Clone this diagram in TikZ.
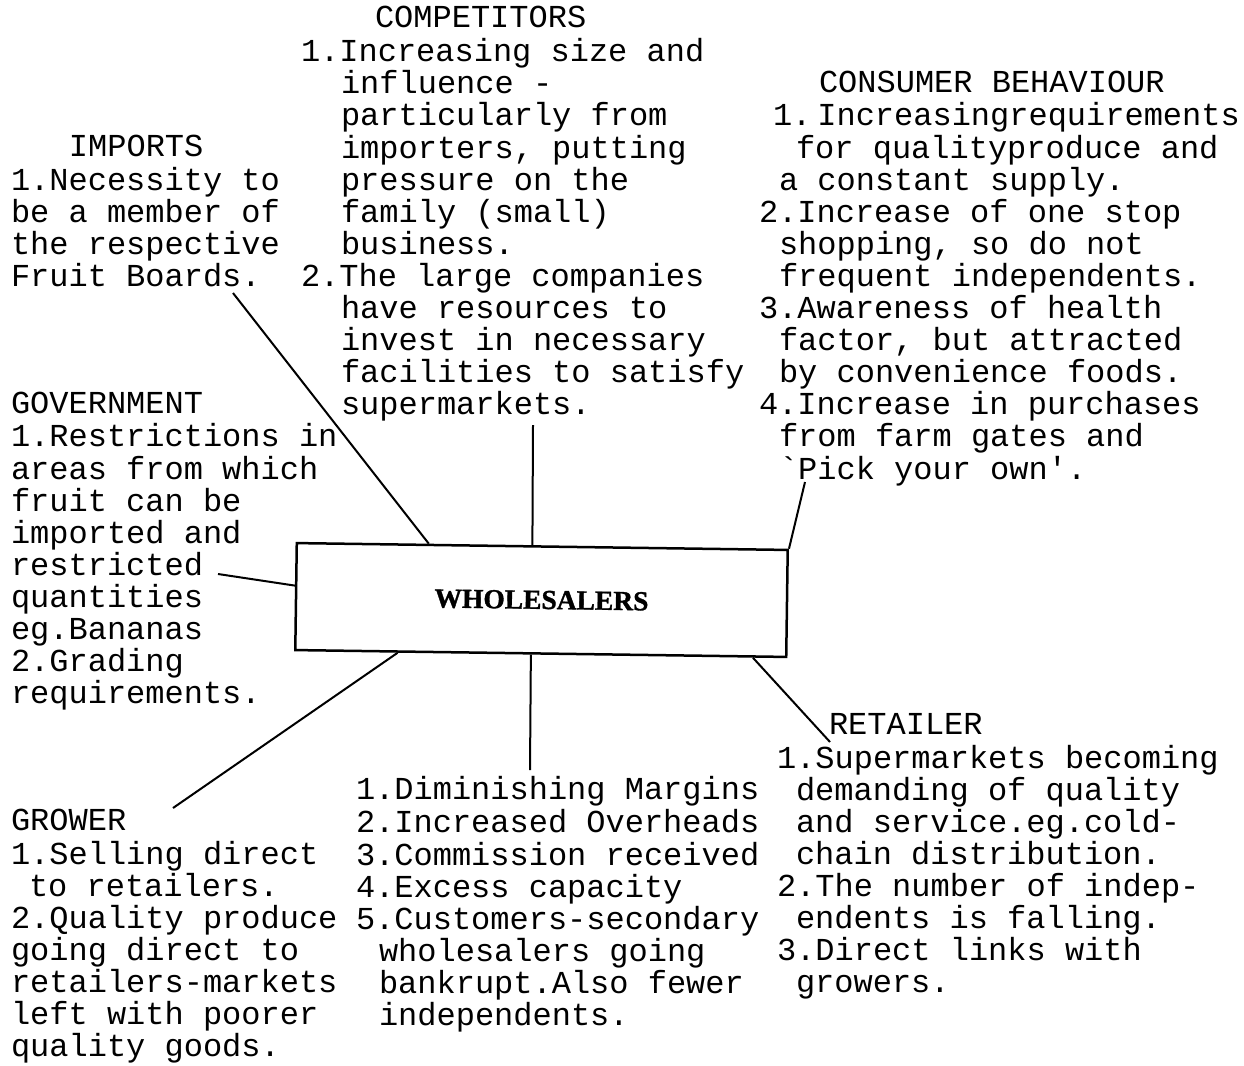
\documentclass[tikz,border=0pt]{standalone}
\usepackage{fontspec}
\setmonofont{Liberation Mono}
\newfontfamily\boxfont[BoldFeatures={FakeBold=1.2}]{Liberation Serif}
\usetikzlibrary{calc}
\newcommand{\indt}[1]{\hspace*{#1pt}}

\begin{document}
\begin{tikzpicture}[x=1pt, y=-1pt, line width=2pt,
  block/.style={anchor=north west, inner sep=0pt, align=left, font=\ttfamily\fontsize{32}{32.1}\selectfont},
  centre/.style={draw, line width=2.5pt, inner sep=0pt, minimum width=491pt, minimum height=107pt, rotate=-0.8, font=\boxfont\bfseries\fontsize{27.5}{30}\selectfont}]
\useasboundingbox (0,0) rectangle (1244,1065);

    \node[centre] (box) at (541.5,600) {WHOLESALERS};

    \node[block] (competitors) at (300,4.5) {\strut\indt{74}COMPETITORS\\
      1.Increasing size and\\ \indt{40}influence -\\ \indt{40}particularly from\\
      \indt{40}importers, putting\\ \indt{40}pressure on the\\ \indt{40}family (small)\\
      \indt{40}business.\\ 2.The large companies\\ \indt{40}have resources to\\
      \indt{40}invest in necessary\\ \indt{40}facilities to satisfy\\ \indt{40}supermarkets.};
    \node[block] (consumer) at (758,68.7) {\strut\indt{60}CONSUMER BEHAVIOUR\\
      \indt{14}1.\kern6pt Increasingrequirements\\ \indt{37}for qualityproduce and\\
      \indt{20}a constant supply.\\ 2.Increase of one stop\\ \indt{20}shopping, so do not\\
      \indt{20}frequent independents.\\ 3.Awareness of health\\ \indt{20}factor, but attracted\\
      \indt{20}by convenience foods.\\ 4.Increase in purchases\\ \indt{20}from farm gates and\\
      \indt{20}`Pick your own'.};
    \node[block] (imports) at (10,132.9) {\strut\indt{58}IMPORTS\\ 1.Necessity to\\
      be a member of\\ the respective\\ Fruit Boards.};
    \node[block] (government) at (10,389.7) {\strut GOVERNMENT\\ 1.Restrictions in\\
      areas from which\\ fruit can be\\ imported and\\ restricted\\ quantities\\
      eg.Bananas\\ 2.Grading\\ requirements.};
    \node[block] (retailer) at (776,710.7) {\strut\indt{52}RETAILER\\
      1.Supermarkets becoming\\ \indt{19}demanding of quality\\ \indt{19}and service.eg.cold-\\
      \indt{19}chain distribution.\\ 2.The number of indep-\\ \indt{19}endents is falling.\\
      3.Direct links with\\ \indt{19}growers.};
    \node[block] (factors) at (355,774.9) {\strut 1.Diminishing Margins\\
      2.Increased Overheads\\ 3.Commission received\\ 4.Excess capacity\\
      5.Customers-secondary\\ \indt{23}wholesalers going\\ \indt{23}bankrupt.Also fewer\\
      \indt{23}independents.};
    \node[block] (grower) at (10,807) {\strut GROWER\\ 1.Selling direct\\
      \indt{18}to retailers.\\ 2.Quality produce\\ going direct to\\
      retailers-markets\\ left with poorer\\ quality goods.};

    % free ends of the connectors
    \coordinate (impend) at (233,293);
    \coordinate (compend) at (533,425);
    \coordinate (consend) at (805,482);
    \coordinate (govend) at (218,574);
    \coordinate (growend) at (173,808);
    \coordinate (factend) at (530,770);
    \coordinate (retend) at (830,742);

  \path[draw]
        (impend)  -- ($(box.north west)!0.27!(box.north east)$)
        (compend) -- ($(box.north west)!0.48!(box.north east)$)
        (consend) -- (box.north east)
        (govend)  -- ($(box.north west)!0.4!(box.south west)$)
        (growend) -- ($(box.south west)!0.21!(box.south east)$)
        (factend) -- ($(box.south west)!0.48!(box.south east)$)
        (retend)  -- ($(box.south west)!0.93!(box.south east)$)
        ;
\end{tikzpicture}
\end{document}
